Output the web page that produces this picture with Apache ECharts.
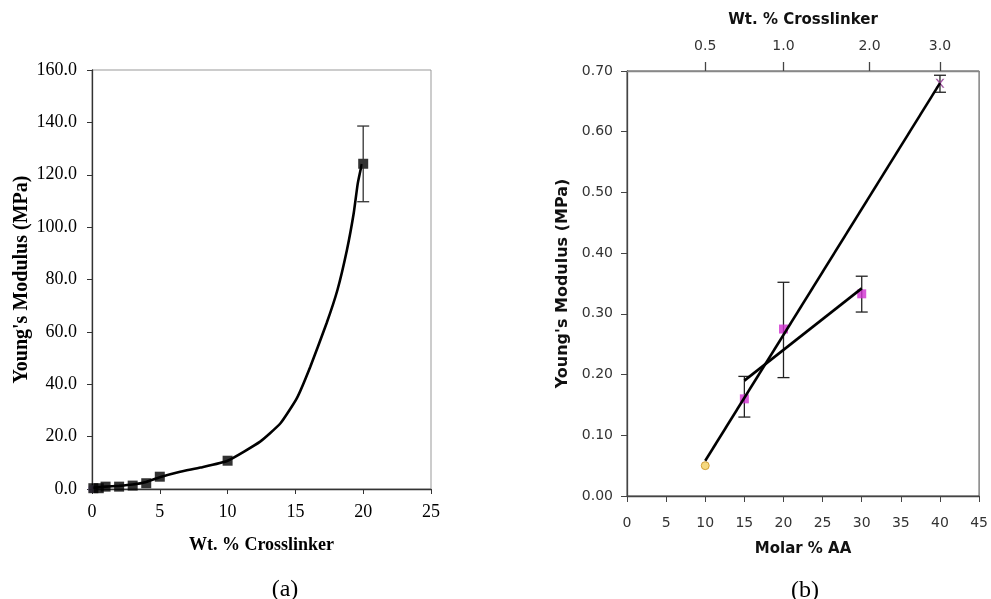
<!DOCTYPE html>
<html>
<head>
<meta charset="utf-8">
<script src="https://cdn.jsdelivr.net/npm/echarts@6/dist/echarts.min.js"></script>
<style>html,body{margin:0;padding:0;background:#fff}#c{width:991px;height:599px}</style>
</head>
<body>
<div id="c"></div>
<script>
// ---- Panel (a) data ----
const aPointX = [0.1, 0.5, 1, 2, 3, 4, 5, 10, 20];
const aPointY = [0.3, 0.3, 0.9, 0.9, 1.3, 2.2, 4.7, 10.8, 124.2];
const aErrX = [20];
const aErrLow = [109.7];
const aErrHigh = [138.6];
const aCurveX = [0.1, 1, 2, 3, 4, 5, 6.5, 8, 10, 12.4, 13.9, 15.1, 16.1, 17.3, 18.1, 18.8, 19.3, 19.6, 19.9];
const aCurveY = [0.5, 0.9, 1.2, 1.7, 2.7, 4.5, 6.6, 8.2, 10.8, 18.1, 25.1, 34.6, 46.7, 63.3, 76.0, 91.3, 105.3, 116.7, 124.1];
const aOriginX = [0];
const aOriginY = [0];
const aXTicks = [0, 25, 5];     // min, max, step
const aYTicks = [0, 160, 20];

// ---- Panel (b) data ----
const bYellowX = [10];
const bYellowY = [0.05];
const bMagentaX = [15, 20, 30];
const bMagentaY = [0.16, 0.275, 0.333];
const bPurpleX = [40];
const bPurpleY = [0.68];
const bErrX = [15, 20, 30, 40];
const bErrLow = [0.13, 0.195, 0.303, 0.665];
const bErrHigh = [0.197, 0.352, 0.362, 0.693];
const bFit1X = [10, 40];
const bFit1Y = [0.058, 0.68];
const bFit2X = [15, 30];
const bFit2Y = [0.19, 0.342];
const bTopTickPos = [10, 20, 31, 40];
const bTopTickLabels = ['0.5', '1.0', '2.0', '3.0'];
const bXTicks = [0, 45, 5];
const bYTicks = [0, 0.7, 0.1];

const zip = (xs, ys) => xs.map((x, i) => [x, ys[i]]);
const zip3 = (xs, a, b) => xs.map((x, i) => [x, a[i], b[i]]);

function errRender(cap, color) {
  return function (params, api) {
    const x = api.value(0), lo = api.value(1), hi = api.value(2);
    const p1 = api.coord([x, lo]), p2 = api.coord([x, hi]);
    const st = { stroke: color, lineWidth: 1.3 };
    return {
      type: 'group',
      children: [
        { type: 'line', shape: { x1: p1[0], y1: p1[1], x2: p2[0], y2: p2[1] }, style: st },
        { type: 'line', shape: { x1: p1[0] - cap, y1: p1[1], x2: p1[0] + cap, y2: p1[1] }, style: st },
        { type: 'line', shape: { x1: p2[0] - cap, y1: p2[1], x2: p2[0] + cap, y2: p2[1] }, style: st }
      ]
    };
  };
}

const serif = 'Liberation Serif';
const sans = 'DejaVu Sans';

const option = {
  animation: false,
  backgroundColor: '#fff',
  title: [
    { text: '(a)', left: 280, top: 585, textAlign: 'center', textVerticalAlign: 'middle',
      textStyle: { fontFamily: serif, fontSize: 24, fontWeight: 'normal', color: '#000' } },
    { text: '(b)', left: 800, top: 586, textAlign: 'center', textVerticalAlign: 'middle',
      textStyle: { fontFamily: serif, fontSize: 24, fontWeight: 'normal', color: '#000' } }
  ],
  grid: [
    { left: 92, top: 70, right: 560, bottom: 110, show: true, borderColor: '#999', borderWidth: 1, backgroundColor: 'transparent' },
    { left: 627, top: 71, right: 10, bottom: 103, show: true, borderColor: '#444', borderWidth: 1, backgroundColor: 'transparent' }
  ],
  xAxis: [
    { type: 'value', gridIndex: 0, min: aXTicks[0], max: aXTicks[1], interval: aXTicks[2],
      name: 'Wt. % Crosslinker', nameLocation: 'middle', nameGap: 47,
      nameTextStyle: { fontFamily: serif, fontSize: 18, fontWeight: 'bold', color: '#000' },
      axisLine: { lineStyle: { color: '#333', width: 1.3 } },
      axisTick: { show: true, length: 5, lineStyle: { color: '#333' } },
      axisLabel: { margin: 14, fontFamily: serif, fontSize: 18, color: '#000' },
      splitLine: { show: false } },
    { type: 'value', gridIndex: 1, min: bXTicks[0], max: bXTicks[1], interval: bXTicks[2],
      name: 'Molar % AA', nameLocation: 'middle', nameGap: 46,
      nameTextStyle: { fontFamily: sans, fontSize: 15, fontWeight: 'bold', color: '#111' },
      axisLine: { lineStyle: { color: '#444', width: 1.3 } },
      axisTick: { show: true, length: 6, lineStyle: { color: '#444' } },
      axisLabel: { margin: 20, fontFamily: sans, fontSize: 14, color: '#333' },
      splitLine: { show: false } },
    { type: 'value', gridIndex: 1, position: 'top', min: bXTicks[0], max: bXTicks[1],
      name: 'Wt. % Crosslinker', nameLocation: 'middle', nameGap: 43,
      nameTextStyle: { fontFamily: sans, fontSize: 15, fontWeight: 'bold', color: '#111' },
      axisLine: { show: true, lineStyle: { color: '#888', width: 1.3 } },
      axisTick: { show: true, length: 9, customValues: bTopTickPos, lineStyle: { color: '#444', width: 1.3 } },
      axisLabel: { margin: 18, fontFamily: sans, fontSize: 14, color: '#333',
        customValues: bTopTickPos,
        formatter: v => { const i = bTopTickPos.indexOf(v); return i >= 0 ? bTopTickLabels[i] : ''; } },
      splitLine: { show: false } }
  ],
  yAxis: [
    { type: 'value', gridIndex: 0, min: aYTicks[0], max: aYTicks[1], interval: aYTicks[2],
      name: "Young's Modulus (MPa)", nameLocation: 'middle', nameGap: 60,
      nameTextStyle: { fontFamily: serif, fontSize: 20, fontWeight: 'bold', color: '#000' },
      axisLine: { show: true, lineStyle: { color: '#333', width: 1.3 } },
      axisTick: { show: true, length: 5, lineStyle: { color: '#333' } },
      axisLabel: { margin: 15, fontFamily: serif, fontSize: 18, color: '#000', formatter: v => v.toFixed(1) },
      splitLine: { show: false } },
    { type: 'value', gridIndex: 1, min: bYTicks[0], max: bYTicks[1], interval: bYTicks[2],
      name: "Young's Modulus (MPa)", nameLocation: 'middle', nameGap: 56,
      nameTextStyle: { fontFamily: sans, fontSize: 16, fontWeight: 'bold', color: '#111' },
      axisLine: { show: true, lineStyle: { color: '#444', width: 1.3 } },
      axisTick: { show: true, length: 6, lineStyle: { color: '#444' } },
      axisLabel: { margin: 14, fontFamily: sans, fontSize: 14, color: '#333', formatter: v => v.toFixed(2) },
      splitLine: { show: false } }
  ],
  series: [
    // panel (a)
    { type: 'scatter', xAxisIndex: 0, yAxisIndex: 0, data: zip(aOriginX, aOriginY), symbol: 'circle', symbolSize: 8,
      clip: false, itemStyle: { color: '#c9b8f2' }, z: 1 },
    { type: 'line', xAxisIndex: 0, yAxisIndex: 0, data: zip(aCurveX, aCurveY), smooth: 0.15,
      showSymbol: false, lineStyle: { color: '#000', width: 2.6 }, z: 3 },
    { type: 'scatter', xAxisIndex: 0, yAxisIndex: 0, data: zip(aPointX, aPointY), symbol: 'rect', symbolSize: 10,
      clip: false, itemStyle: { color: '#000' }, z: 4 },
    { type: 'custom', xAxisIndex: 0, yAxisIndex: 0, data: zip3(aErrX, aErrLow, aErrHigh),
      renderItem: errRender(6, '#333'), encode: { x: 0, y: [1, 2] }, z: 5 },
    // panel (b)
    { type: 'custom', xAxisIndex: 1, yAxisIndex: 1, data: zip3(bErrX, bErrLow, bErrHigh),
      renderItem: errRender(6, '#222'), encode: { x: 0, y: [1, 2] }, z: 2 },
    { type: 'scatter', xAxisIndex: 1, yAxisIndex: 1, data: zip(bYellowX, bYellowY), symbol: 'circle', symbolSize: 8,
      itemStyle: { color: '#f2d060', borderColor: '#c89020', borderWidth: 1 }, z: 3 },
    { type: 'scatter', xAxisIndex: 1, yAxisIndex: 1, data: zip(bMagentaX, bMagentaY), symbol: 'rect', symbolSize: 9,
      itemStyle: { color: '#d030d0' }, z: 3 },
    { type: 'scatter', xAxisIndex: 1, yAxisIndex: 1, data: zip(bPurpleX, bPurpleY),
      symbol: 'path://M0,0L2,0L5,3L8,0L10,0L6,4L10,8L8,8L5,5L2,8L0,8L4,4Z', symbolSize: 9,
      itemStyle: { color: '#8b2f8b' }, z: 3 },
    { type: 'line', xAxisIndex: 1, yAxisIndex: 1, data: zip(bFit1X, bFit1Y), showSymbol: false,
      lineStyle: { color: '#000', width: 2.6 }, z: 4 },
    { type: 'line', xAxisIndex: 1, yAxisIndex: 1, data: zip(bFit2X, bFit2Y), showSymbol: false,
      lineStyle: { color: '#000', width: 2.6 }, z: 4 }
  ]
};

const chart = echarts.init(document.getElementById('c'), null, { renderer: 'canvas' });
chart.setOption(option);
</script>
</body>
</html>
